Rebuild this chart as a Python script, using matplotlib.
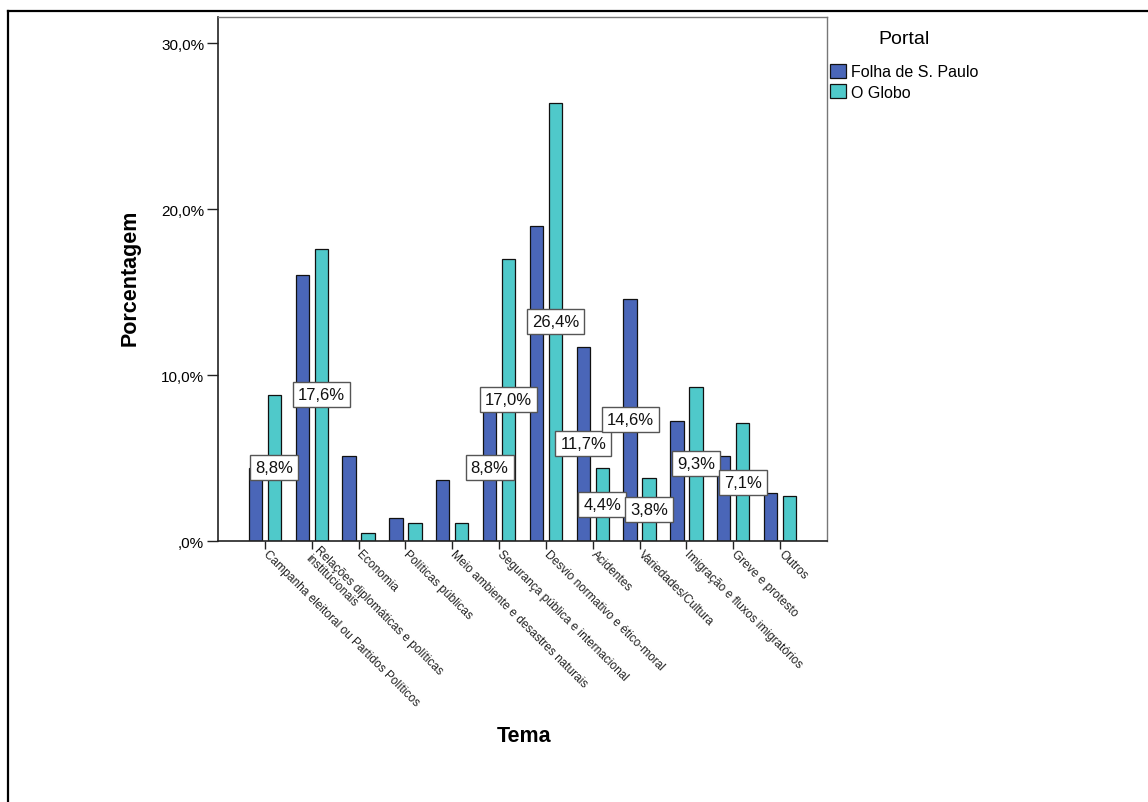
import matplotlib
matplotlib.use("Agg")
import matplotlib.pyplot as plt
from matplotlib.patches import Patch
from matplotlib.lines import Line2D
import numpy as np

plt.rcParams['font.family'] = ['Liberation Sans', 'DejaVu Sans']

categories = [
    "Campanha eleitoral ou Partidos Políticos",
    "Relações diplomáticas e políticas\ninstitucionais",
    "Economia",
    "Políticas públicas",
    "Meio ambiente e desastres naturais",
    "Segurança pública e internacional",
    "Desvio normativo e ético-moral",
    "Acidentes",
    "Variedades/Cultura",
    "Imigração e fluxos imigratórios",
    "Greve e protesto",
    "Outros",
]
series_names = ["Folha de S. Paulo", "O Globo"]
folha = [4.4, 16.0, 5.1, 1.4, 3.7, 8.8, 19.0, 11.7, 14.6, 7.2, 5.1, 2.9]
globo = [8.8, 17.6, 0.5, 1.1, 1.1, 17.0, 26.4, 4.4, 3.8, 9.3, 7.1, 2.7]
# which bars carry a value label in the reference
folha_labeled = [False, False, False, False, False, True, False, True, True, False, False, False]
globo_labeled = [True, True, False, False, False, True, True, True, True, True, True, False]
y_ticks = [0, 10, 20, 30]
y_tick_labels = [",0%", "10,0%", "20,0%", "30,0%"]

c_folha = "#4a66b8"
c_globo = "#4fc9ca"

W, H = 1148, 803
fig = plt.figure(figsize=(W / 100, H / 100), dpi=100)
ax_l, ax_r, ax_t, ax_b = 218, 827, 18, 542
ax = fig.add_axes([ax_l / W, 1 - ax_b / H, (ax_r - ax_l) / W, (ax_b - ax_t) / H])

x = np.arange(len(categories))
bw = 0.285
off = 0.203
bars_f = ax.bar(x - off, folha, bw, color=c_folha, edgecolor="#111111", linewidth=0.9, zorder=2)
bars_g = ax.bar(x + off, globo, bw, color=c_globo, edgecolor="#111111", linewidth=0.9, zorder=2)

def fmt(v):
    return f"{v:.1f}%".replace(".", ",")

for bars, vals, flags in ((bars_f, folha, folha_labeled), (bars_g, globo, globo_labeled)):
    for b, v, fl in zip(bars, vals, flags):
        if fl:
            ax.text(b.get_x() + b.get_width() / 2, v / 2, fmt(v), ha="center", va="center",
                    fontsize=12, color="#111111", zorder=5,
                    bbox=dict(boxstyle="square,pad=0.3", facecolor="white",
                              edgecolor="#555555", linewidth=1.0))

ax.set_xlim(-1, 12)
ax.set_ylim(0, 31.57)
ax.set_yticks(y_ticks)
ax.set_yticklabels(y_tick_labels, fontsize=11)
ax.set_xticks(x)
ax.set_xticklabels(categories, rotation=-45, ha="left", va="center",
                   rotation_mode="anchor", fontsize=8.6, color="#222222",
                   linespacing=1.0)
ax.tick_params(axis="x", length=6, width=1.0, color="#222222", pad=2)
ax.tick_params(axis="y", length=8, width=1.0, color="#222222", pad=2)

for s in ("left", "bottom"):
    ax.spines[s].set_color("#222222")
    ax.spines[s].set_linewidth(1.2)
for s in ("top", "right"):
    ax.spines[s].set_color("#777777")
    ax.spines[s].set_linewidth(1.0)

fig.text(130 / W, 1 - 278 / H, "Porcentagem", rotation=90, ha="center", va="center",
         fontsize=15.5, fontweight="bold")
fig.text(524 / W, 1 - 737 / H, "Tema", ha="center", va="center",
         fontsize=15.5, fontweight="bold")

handles = [Patch(facecolor=c_folha, edgecolor="#111111", linewidth=0.9),
           Patch(facecolor=c_globo, edgecolor="#111111", linewidth=0.9)]
leg = fig.legend(handles, series_names, title="Portal", loc="upper left",
                 bbox_to_anchor=(830 / W, 1 - 31 / H), frameon=False,
                 fontsize=11.5, title_fontsize=14, handlelength=1.0, handleheight=1.0,
                 handletextpad=0.3, labelspacing=0.3, borderpad=0, borderaxespad=0)
leg._legend_box.sep = 12

# outer border (top and left edges visible in the reference)
fig.add_artist(Line2D([8 / W, 8 / W], [0, 1 - 12 / H], transform=fig.transFigure,
                      color="black", linewidth=1.6))
fig.add_artist(Line2D([8 / W, 1], [1 - 12 / H, 1 - 12 / H], transform=fig.transFigure,
                      color="black", linewidth=1.6))

fig.savefig("out.png", dpi=100)
